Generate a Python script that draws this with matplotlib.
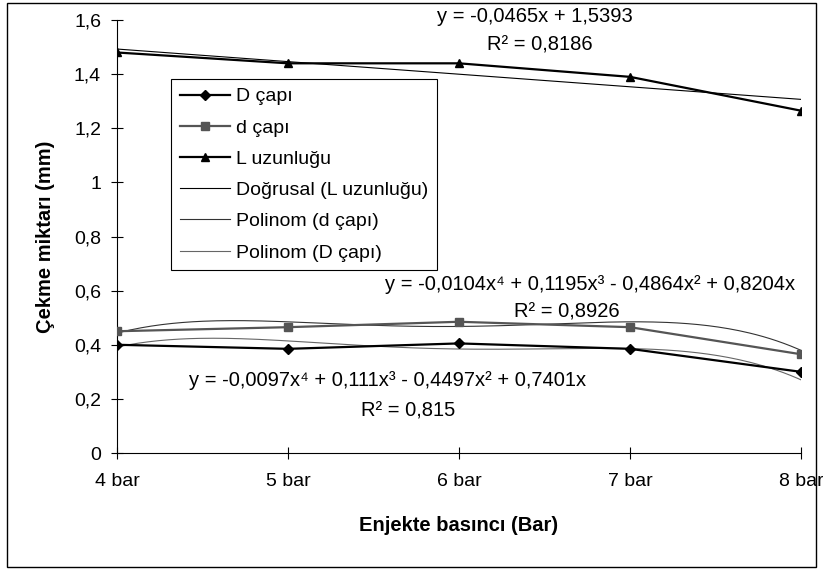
import numpy as np
import matplotlib
matplotlib.use("Agg")
from matplotlib import pyplot as plt
from matplotlib import patches

plt.rcParams['font.family'] = ['Liberation Sans', 'DejaVu Sans']

# data
bar_labels = ['4 bar', '5 bar', '6 bar', '7 bar', '8 bar']
x_pos = [1, 2, 3, 4, 5]
D_capi = [0.40, 0.385, 0.405, 0.385, 0.30]
d_capi = [0.45, 0.465, 0.485, 0.465, 0.365]
L_uzun = [1.48, 1.44, 1.44, 1.39, 1.265]

# trendline coefficients as printed on the chart (highest power first)
lin_L = [-0.0465, 1.5393]
poly_d = [-0.0104, 0.1195, -0.4864, 0.8204, 0.0]
poly_D = [-0.0097, 0.111, -0.4497, 0.7401, 0.0]

fig = plt.figure(figsize=(8.23, 5.72), dpi=100)
ax = fig.add_axes([0.1422, 0.208, 0.831, 0.757])

ax.plot(x_pos, D_capi, color='black', lw=1.6, marker='D', ms=5, label='D çapı', zorder=4)
ax.plot(x_pos, d_capi, color='#555555', lw=1.6, marker='s', ms=6, label='d çapı', zorder=4)
ax.plot(x_pos, L_uzun, color='black', lw=1.6, marker='^', ms=6, label='L uzunluğu', zorder=4)

xs = np.linspace(1, 5, 200)
ax.plot(xs, np.polyval(lin_L, xs), color='black', lw=0.8, label='Doğrusal (L uzunluğu)', zorder=3)
ax.plot(xs, np.polyval(poly_d, xs), color='#333333', lw=0.8, label='Polinom (d çapı)', zorder=3)
ax.plot(xs, np.polyval(poly_D, xs), color='#666666', lw=0.8, label='Polinom (D çapı)', zorder=3)

ax.set_xlim(1, 5)
ax.set_ylim(0, 1.6)
ax.set_xticks(x_pos)
ax.set_xticklabels(bar_labels)
yt = np.arange(0, 1.61, 0.2)
ax.set_yticks(yt)
ax.set_yticklabels(['0', '0,2', '0,4', '0,6', '0,8', '1', '1,2', '1,4', '1,6'])
ax.tick_params(direction='inout', length=9, width=0.8, labelsize=14)
ax.tick_params(axis='y', pad=7)
ax.tick_params(axis='x', pad=10)
ax.spines['top'].set_visible(False)
ax.spines['right'].set_visible(False)
for s in ['left', 'bottom']:
    ax.spines[s].set_linewidth(0.8)

ax.set_xlabel('Enjekte basıncı (Bar)', fontsize=14.5, fontweight='bold')
ax.xaxis.set_label_coords(0.5, -0.145)
ax.set_ylabel('Çekme miktarı (mm)', fontsize=14.5, fontweight='bold')
ax.yaxis.set_label_coords(-0.09, 0.5)

def fig_text(px, py, s):
    fig.text(px / 823, 1 - py / 572, s, ha='center', va='center', fontsize=14.5)

fig_text(535, 16, 'y = -0,0465x + 1,5393')
fig_text(540, 45, 'R² = 0,8186')
fig_text(590, 285, 'y = -0,0104x⁴ + 0,1195x³ - 0,4864x² + 0,8204x')
fig_text(567, 312, 'R² = 0,8926')
fig_text(388, 381, 'y = -0,0097x⁴ + 0,111x³ - 0,4497x² + 0,7401x')
fig_text(408, 411, 'R² = 0,815')

leg = ax.legend(loc='upper left', bbox_to_anchor=(0.0789, 0.8637), borderaxespad=0,
                fontsize=14, frameon=True, fancybox=False, edgecolor='black',
                framealpha=1, handlelength=2.6, handletextpad=0.3,
                labelspacing=0.7, borderpad=0.45)
leg.get_frame().set_linewidth(0.8)

fig.patches.append(patches.Rectangle((7 / 823, 5 / 572), 809 / 823, 564 / 572,
                                     transform=fig.transFigure, fill=False,
                                     edgecolor='black', lw=1))

fig.savefig('out.png', dpi=100)
